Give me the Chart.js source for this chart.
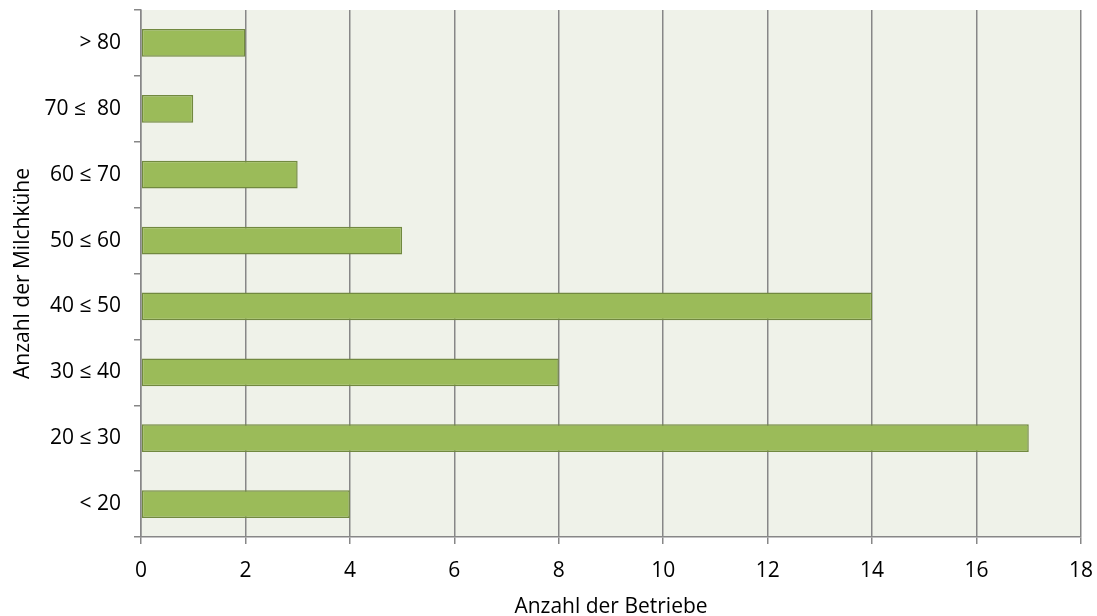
<!DOCTYPE html>
<html>
<head>
<meta charset="utf-8">
<script src="https://cdn.jsdelivr.net/npm/chart.js@4/dist/chart.umd.min.js"></script>
<style>
  html, body { margin: 0; padding: 0; background: #ffffff; }
  #wrap { width: 1097px; height: 616px; position: relative; }
</style>
</head>
<body>
<div id="wrap"><canvas id="chart" width="1097" height="616"></canvas></div>
<script>
// Herd size classes (bottom to top) and number of farms in each
const categories = ['< 20', '20 ≤ 30', '30 ≤ 40', '40 ≤ 50', '50 ≤ 60', '60 ≤ 70', '70 ≤  80', '> 80'];
const farms = [4, 17, 8, 14, 5, 3, 1, 2];
const xTicks = [0, 2, 4, 6, 8, 10, 12, 14, 16, 18];

const FONT = '"Open Sans", "DejaVu Sans", sans-serif';
const FONT_SIZE = 21;

// Fills the plotting area with a pale green tone
const plotBackground = {
  id: 'plotBackground',
  beforeDraw(chart) {
    const { ctx, chartArea: a } = chart;
    ctx.save();
    ctx.fillStyle = '#eff2e9';
    ctx.fillRect(a.left, a.top, a.right - a.left, a.bottom - a.top);
    ctx.restore();
  }
};

new Chart(document.getElementById('chart'), {
  type: 'bar',
  data: {
    labels: categories,
    datasets: [{
      data: farms,
      backgroundColor: '#9bbb59',
      borderColor: '#71893f',
      borderWidth: 1.5,
      borderSkipped: false,
      categoryPercentage: 1,
      barPercentage: 0.42
    }]
  },
  options: {
    indexAxis: 'y',
    responsive: false,
    animation: false,
    layout: { padding: { top: 10, right: 16, left: 0, bottom: 0 } },
    plugins: { legend: { display: false }, tooltip: { enabled: false } },
    scales: {
      x: {
        type: 'linear',
        min: 0,
        max: 18,
        afterBuildTicks(scale) { scale.ticks = xTicks.map(v => ({ value: v })); },
        afterFit(scale) {
          scale.height = 79;
          scale.paddingLeft = 0;
          scale.paddingRight = 0;
        },
        grid: { color: '#878787', lineWidth: 1.5, tickLength: 7, drawOnChartArea: true },
        border: { color: '#878787', width: 1.5 },
        ticks: { color: '#000', font: { family: FONT, size: FONT_SIZE }, padding: 14 },
        title: {
          display: true,
          text: 'Anzahl der Betriebe',
          color: '#000',
          font: { family: FONT, size: FONT_SIZE },
          padding: { top: 0, bottom: -4 }
        }
      },
      y: {
        reverse: true,
        afterFit(scale) {
          scale.width = 141;
          scale.paddingTop = 0;
          scale.paddingBottom = 0;
        },
        grid: { color: '#878787', lineWidth: 1.5, tickLength: 7, drawOnChartArea: false, offset: true },
        border: { color: '#878787', width: 1.5 },
        ticks: { color: '#000', font: { family: FONT, size: FONT_SIZE }, padding: 13 },
        title: {
          display: true,
          text: 'Anzahl der Milchkühe',
          color: '#000',
          font: { family: FONT, size: FONT_SIZE },
          padding: { top: 10, bottom: 0 }
        }
      }
    }
  },
  plugins: [plotBackground]
});
</script>
</body>
</html>
